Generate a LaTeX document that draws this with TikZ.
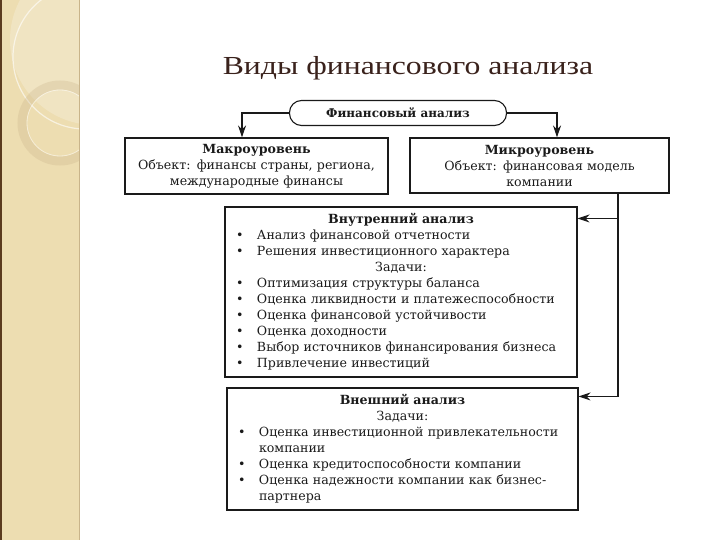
\documentclass[tikz,border=0pt]{standalone}
\usepackage{fontspec}
\setmainfont{DejaVu Serif}
\newfontfamily\titlefont[FakeStretch=1.22]{Liberation Serif}
\usetikzlibrary{arrows.meta}

\definecolor{strip}{HTML}{EDDDB1}
\definecolor{stripedge}{HTML}{5B3B1E}
\definecolor{stripline}{HTML}{C9B48A}
\definecolor{ink}{HTML}{1A1A1A}
\definecolor{titleink}{HTML}{3A221C}

\newcommand{\bul}{\makebox[21pt][l]{\textbullet}}
\newcommand{\ctr}[1]{\makebox[\linewidth]{#1}}

\tikzset{
  box/.style={draw=ink, line width=1.1pt, rectangle, inner xsep=11pt, inner ysep=0pt,
    text=ink, font=\fontsize{12.6}{16}\selectfont},
  arr/.style={draw=ink, line width=1.1pt, -{Stealth[length=12pt,width=8pt]}},
}

\begin{document}
\begin{tikzpicture}[x=1pt,y=-1pt]
  \useasboundingbox (0,0) rectangle (720,540);
  % left strip
  \fill[strip] (0,0) rectangle (79,540);
  \begin{scope}
    \clip (0,0) rectangle (79,540);
    \fill[white,opacity=0.22] (95,40) circle (85);
    \draw[white,opacity=0.6,line width=1.2pt] (85,57) circle (72);
    \draw[stripline,opacity=0.3,line width=9pt] (60,123) circle (38);
    \draw[white,opacity=0.5,line width=0.8pt] (60,123) circle (33);
  \end{scope}
  \fill[stripedge] (0,0) rectangle (2,540);
  \draw[stripline] (79,0) -- (79,540);

  \node[font=\titlefont\fontsize{26}{30}\selectfont, text=titleink] (title) at (408,68)
    {Виды финансового анализа};

  % boxes
  \node[box, rounded corners=12pt, minimum width=217pt, minimum height=25pt,
    font=\bfseries\fontsize{12}{14}\selectfont] (fin) at (398,113) {Финансовый анализ};
  \node[box, text width=241pt, minimum height=56pt, align=center] (macro) at (256.5,166)
    {\textbf{Макроуровень}\\ Объект: финансы страны, региона,\\ международные финансы};
  \node[box, text width=237pt, minimum height=55pt, align=center] (micro) at (539.5,165.5)
    {\textbf{Микроуровень}\\ Объект: финансовая модель\\ компании};
  \node[box, text width=330pt, minimum height=170pt, align=left] (inner) at (401,292)
    {\ctr{\textbf{Внутренний анализ}}\\
     \bul Анализ финансовой отчетности\\
     \bul Решения инвестиционного характера\\
     \ctr{Задачи:}\\
     \bul Оптимизация структуры баланса\\
     \bul Оценка ликвидности и платежеспособности\\
     \bul Оценка финансовой устойчивости\\
     \bul Оценка доходности\\
     \bul Выбор источников финансирования бизнеса\\
     \bul Привлечение инвестиций};
  \node[box, text width=329pt, minimum height=122pt, align=left] (outer) at (402.5,449)
    {\ctr{\textbf{Внешний анализ}}\\
     \ctr{Задачи:}\\
     \bul Оценка инвестиционной привлекательности\\
     \hspace*{21pt}компании\\
     \bul Оценка кредитоспособности компании\\
     \bul Оценка надежности компании как бизнес-\\
     \hspace*{21pt}партнера};

  % connectors
  \coordinate (split) at ([xshift=78.5pt]micro.south);
  \draw[arr] (fin.west) -| ([xshift=-14.5pt]macro.north);
  \draw[arr] (fin.east) -| ([xshift=17.5pt]micro.north);
  \draw[arr] (split) |- ([yshift=-12pt]inner.north east);
  \draw[arr] (split) |- ([yshift=-9pt]outer.north east);
\end{tikzpicture}
\end{document}
